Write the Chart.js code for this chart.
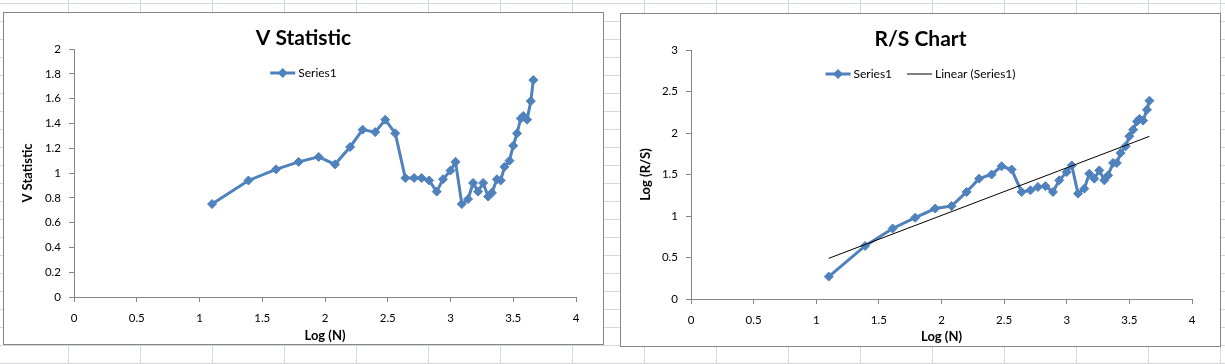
<!DOCTYPE html>
<html>
<head>
<meta charset="utf-8">
<script src="https://cdn.jsdelivr.net/npm/chart.js@4.4.0/dist/chart.umd.min.js"></script>
<style>
  html, body { margin: 0; padding: 0; }
  body {
    width: 1225px; height: 364px; overflow: hidden; position: relative;
    background-color: #fff;
    background-image: linear-gradient(to right, #d4d8dd 1px, transparent 1px),
                      linear-gradient(to bottom, #d4d8dd 1px, transparent 1px);
    background-size: 72px 18px;
    background-position: 68px 3px;
  }
  .box { position: absolute; box-sizing: border-box; border: 1px solid #868686; background: #fff; }
  #box1 { left: 3px; top: 12px; width: 601px; height: 333px; }
  #box2 { left: 620px; top: 13px; width: 601px; height: 334px; }
  canvas { display: block; }
</style>
</head>
<body>
<div class="box" id="box1"><canvas id="vChart" width="599" height="331"></canvas></div>
<div class="box" id="box2"><canvas id="rsChart" width="599" height="332"></canvas></div>
<script>
// values
const logN = [1.10, 1.39, 1.61, 1.79, 1.95, 2.08, 2.20, 2.30, 2.40, 2.48, 2.56, 2.64, 2.71,
  2.77, 2.83, 2.89, 2.94, 3.00, 3.04, 3.09, 3.14, 3.18, 3.22, 3.26, 3.30, 3.33, 3.37,
  3.40, 3.43, 3.47, 3.50, 3.53, 3.56, 3.58, 3.61, 3.64, 3.66];
const vStat = [0.75, 0.94, 1.03, 1.09, 1.13, 1.07, 1.21, 1.35, 1.33, 1.43, 1.32, 0.96, 0.96,
  0.96, 0.94, 0.85, 0.95, 1.02, 1.09, 0.75, 0.79, 0.92, 0.85, 0.92, 0.81, 0.84, 0.95,
  0.94, 1.05, 1.10, 1.22, 1.32, 1.44, 1.46, 1.43, 1.58, 1.75];
const logRS = [0.27, 0.64, 0.85, 0.98, 1.09, 1.12, 1.29, 1.45, 1.50, 1.60, 1.56, 1.29, 1.31,
  1.35, 1.36, 1.29, 1.43, 1.53, 1.61, 1.27, 1.33, 1.51, 1.45, 1.55, 1.43, 1.49, 1.64,
  1.64, 1.76, 1.84, 1.96, 2.04, 2.14, 2.17, 2.15, 2.28, 2.39];
// trendline ends as drawn
const trendLogN = [1.10, 3.66];
const trendLogRS = [0.49, 1.96];

const xMin = 0, xMax = 4, xStep = 0.5;
const vMin = 0, vMax = 2, vStep = 0.2;
const rsMin = 0, rsMax = 3, rsStep = 0.5;

const blue = '#4F81BD';
const axisGray = '#868686';

Chart.defaults.font.family = 'Lato, "Liberation Sans", sans-serif';
Chart.defaults.color = '#000';

function points(xs, ys) {
  return xs.map((x, i) => ({ x: x, y: ys[i] }));
}

// excel-like legend sitting inside the plot, centred on the chart
const excelLegend = {
  id: 'excelLegend',
  afterDraw(chart, args, opts) {
    const ctx = chart.ctx;
    const sets = chart.data.datasets;
    const lineLen = 25, gap = 3, itemGap = 15;
    ctx.save();
    ctx.font = '12px Lato';
    const widths = sets.map(ds => lineLen + gap + ctx.measureText(ds.label).width);
    const total = widths.reduce((a, b) => a + b, 0) + itemGap * (sets.length - 1);
    let x = chart.width / 2 - total / 2;
    const y = opts.y;
    sets.forEach((ds, i) => {
      ctx.strokeStyle = ds.borderColor;
      ctx.lineWidth = ds.borderWidth;
      ctx.beginPath();
      ctx.moveTo(x, y);
      ctx.lineTo(x + lineLen, y);
      ctx.stroke();
      if (ds.pointRadius > 0) {
        const cx = x + lineLen / 2, r = ds.pointRadius + 0.5;
        ctx.fillStyle = ds.borderColor;
        ctx.beginPath();
        ctx.moveTo(cx, y - r);
        ctx.lineTo(cx + r, y);
        ctx.lineTo(cx, y + r);
        ctx.lineTo(cx - r, y);
        ctx.closePath();
        ctx.fill();
      }
      ctx.fillStyle = '#000';
      ctx.textBaseline = 'middle';
      ctx.textAlign = 'left';
      ctx.fillText(ds.label, x + lineLen + gap, y);
      x += widths[i] + itemGap;
    });
    ctx.restore();
  }
};

function seriesSet(ys) {
  return {
    label: 'Series1',
    data: points(logN, ys),
    showLine: true,
    borderColor: blue,
    backgroundColor: blue,
    borderWidth: 3,
    pointStyle: 'rectRot',
    pointRadius: 4.5,
    pointBorderWidth: 1,
    tension: 0
  };
}

function makeOptions(cfg) {
  return {
    responsive: false,
    animation: false,
    devicePixelRatio: 1,
    layout: { padding: 0 },
    plugins: {
      legend: { display: false },
      tooltip: { enabled: false },
      title: {
        display: true,
        text: cfg.title,
        font: { size: 21, weight: 'bold', lineHeight: 1.05 },
        color: '#000',
        padding: { top: 14, bottom: 0 }
      },
      excelLegend: { y: 60 }
    },
    scales: {
      x: {
        type: 'linear',
        min: xMin, max: xMax,
        afterFit: s => { s.height = 47; },
        border: { color: axisGray },
        grid: { drawOnChartArea: false, drawTicks: true, tickLength: 5, color: axisGray },
        ticks: { stepSize: xStep, padding: 9, font: { size: 11.5 }, color: '#000',
          maxRotation: 0, callback: v => String(+v.toFixed(2)) },
        title: { display: true, text: 'Log (N)', font: { size: 13, weight: 'bold' },
          color: '#000', padding: { top: 0, bottom: cfg.xTitlePad } }
      },
      y: {
        type: 'linear',
        min: cfg.yMin, max: cfg.yMax,
        afterFit: s => { s.width = 70; },
        border: { color: axisGray },
        grid: { drawOnChartArea: false, drawTicks: true, tickLength: 5, color: axisGray },
        ticks: { stepSize: cfg.yStep, padding: 8, font: { size: 11.5 }, color: '#000',
          callback: v => String(+v.toFixed(2)) },
        title: { display: true, text: cfg.yTitle, font: { size: 13, weight: 'bold' },
          color: '#000', padding: { top: cfg.yTitlePad, bottom: 0 } }
      },
      // empty right-hand strip so the title stays centred on the whole chart
      gap: {
        type: 'linear',
        position: 'right',
        afterFit: s => { s.width = cfg.padRight; },
        border: { display: false },
        grid: { display: false },
        ticks: { display: false }
      }
    }
  };
}

new Chart(document.getElementById('vChart'), {
  type: 'scatter',
  data: { datasets: [seriesSet(vStat)] },
  options: makeOptions({ title: 'V Statistic', yTitle: 'V Statistic', yMin: vMin, yMax: vMax,
    yStep: vStep, padRight: 27, xTitlePad: 0, yTitlePad: 16 }),
  plugins: [excelLegend]
});

new Chart(document.getElementById('rsChart'), {
  type: 'scatter',
  data: {
    datasets: [
      seriesSet(logRS),
      {
        label: 'Linear (Series1)',
        data: points(trendLogN, trendLogRS),
        showLine: true,
        borderColor: '#000',
        borderWidth: 1,
        pointRadius: 0,
        order: -1
      }
    ]
  },
  options: makeOptions({ title: 'R/S Chart', yTitle: 'Log (R/S)', yMin: rsMin, yMax: rsMax,
    yStep: rsStep, padRight: 28, xTitlePad: 1, yTitlePad: 17 }),
  plugins: [excelLegend]
});
</script>
</body>
</html>
